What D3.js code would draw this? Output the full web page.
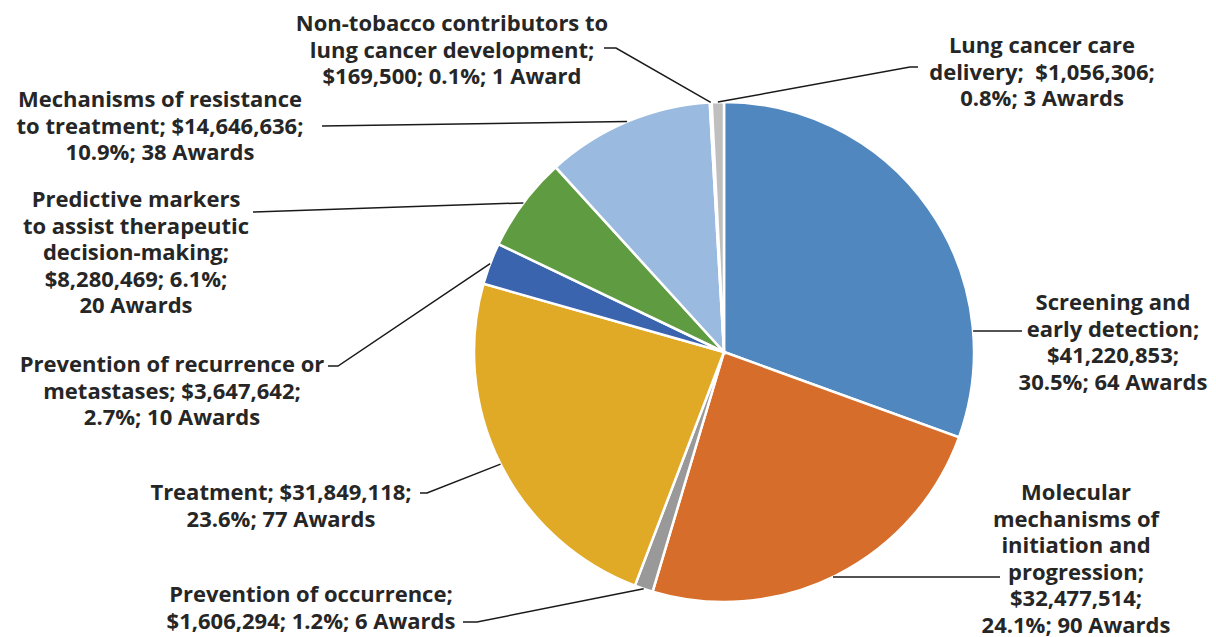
<!DOCTYPE html>
<html>
<head>
<meta charset="utf-8">
<script src="https://cdn.jsdelivr.net/npm/d3@7"></script>
<style>
  html, body { margin: 0; padding: 0; background: #fff; }
  svg text { font-family: "Open Sans", "Noto Sans", sans-serif; font-weight: 700; fill: #262626; }
</style>
</head>
<body>
<svg id="chart" width="1216" height="637"></svg>
<script>
// slices, clockwise from 12 o'clock
const categories = [
  'Screening and early detection',
  'Molecular mechanisms of initiation and progression',
  'Prevention of occurrence',
  'Treatment',
  'Prevention of recurrence or metastases',
  'Predictive markers to assist therapeutic decision-making',
  'Mechanisms of resistance to treatment',
  'Non-tobacco contributors to lung cancer development',
  'Lung cancer care delivery'
]
const dollars = [41220853, 32477514, 1606294, 31849118, 3647642, 8280469, 14646636, 169500, 1056306]
const percents = ['30.5%', '24.1%', '1.2%', '23.6%', '2.7%', '6.1%', '10.9%', '0.1%', '0.8%']
const awards = [64, 90, 6, 77, 10, 20, 38, 1, 3]
const colors = ['#4f87be', '#d66d2a', '#999999', '#e0a926', '#3a64ae', '#5f9c41', '#9abae0', '#d9d9d9', '#bfbfbf']

// label text as it is broken in the picture
const labelLines = [
  ['Screening and', 'early detection;', '$41,220,853;', '30.5%; 64 Awards'],
  ['Molecular', 'mechanisms of', 'initiation and', 'progression;', '$32,477,514;', '24.1%; 90 Awards'],
  ['Prevention of occurrence;', '$1,606,294; 1.2%; 6 Awards'],
  ['Treatment; $31,849,118;', '23.6%; 77 Awards'],
  ['Prevention of recurrence or', 'metastases; $3,647,642;', '2.7%; 10 Awards'],
  ['Predictive markers', 'to assist therapeutic', 'decision-making;', '$8,280,469; 6.1%;', '20 Awards'],
  ['Mechanisms of resistance', 'to treatment; $14,646,636;', '10.9%; 38 Awards'],
  ['Non-tobacco contributors to', 'lung cancer development;', '$169,500; 0.1%; 1 Award'],
  ['Lung cancer care', 'delivery;  $1,056,306;', '0.8%; 3 Awards']
]

// label placement: text centre x, first baseline y, leader start (sx, sy), stub end
const labelPos = [
  { x: 1113, y: 310, sx: 1022, sy: 331, level: true },
  { x: 1076, y: 500, sx: 1000, sy: 577, level: true },
  { x: 311, y: 602, sx: 463, sy: 622, kx: 477 },
  { x: 281, y: 500, sx: 420, sy: 493, kx: 427 },
  { x: 172, y: 372, sx: 328, sy: 366, kx: 338 },
  { x: 136, y: 207, sx: 253, sy: 212 },
  { x: 160, y: 107, sx: 322, sy: 126 },
  { x: 452, y: 31, sx: 604, sy: 48, kx: 616 },
  { x: 1042, y: 53, sx: 918, sy: 67, kx: 910 }
]

const width = 1216
const height = 637
const cx = 724
const cy = 352
const radius = 250
const lineH = 26.5

const svg = d3.select('#chart')
const g = svg.append('g').attr('transform', `translate(${cx},${cy})`)

const data = categories.map((c, i) => ({
  name: c, value: dollars[i], color: colors[i], lines: labelLines[i], pos: labelPos[i]
}))

const pie = d3.pie().sort(null).value(d => d.value)
const arcs = pie(data)
const arc = d3.arc().innerRadius(0).outerRadius(radius)

g.selectAll('path.slice')
  .data(arcs)
  .enter().append('path')
  .attr('class', 'slice')
  .attr('d', arc)
  .attr('fill', d => d.data.color)
  .attr('stroke', '#fff')
  .attr('stroke-width', 2.5)

// leader lines: end at the slice's outer edge (mid angle, or level with the label)
function edgePoint (d) {
  const p = d.data.pos
  if (p.level) {
    let dy = p.sy - cy
    let dx = Math.sqrt(radius * radius - dy * dy)
    return [cx + dx, cy + dy]
  }
  const a = (d.startAngle + d.endAngle) / 2
  return [cx + radius * Math.sin(a), cy - radius * Math.cos(a)]
}

svg.selectAll('path.leader')
  .data(arcs)
  .enter().append('path')
  .attr('class', 'leader')
  .attr('fill', 'none')
  .attr('stroke', '#1a1a1a')
  .attr('stroke-width', 1.5)
  .attr('d', d => {
    const p = d.data.pos
    const pts = [[p.sx, p.sy]]
    if (p.kx !== undefined) pts.push([p.kx, p.sy])
    pts.push(edgePoint(d))
    return d3.line()(pts)
  })

const labels = svg.selectAll('text.label')
  .data(arcs)
  .enter().append('text')
  .attr('class', 'label')
  .attr('text-anchor', 'middle')
  .attr('font-size', 22)

labels.selectAll('tspan')
  .data(d => d.data.lines.map(l => ({ l, p: d.data.pos })))
  .enter().append('tspan')
  .attr('x', d => d.p.x)
  .attr('y', (d, i) => d.p.y + i * lineH)
  .attr('xml:space', 'preserve')
  .text(d => d.l)
</script>
</body>
</html>
